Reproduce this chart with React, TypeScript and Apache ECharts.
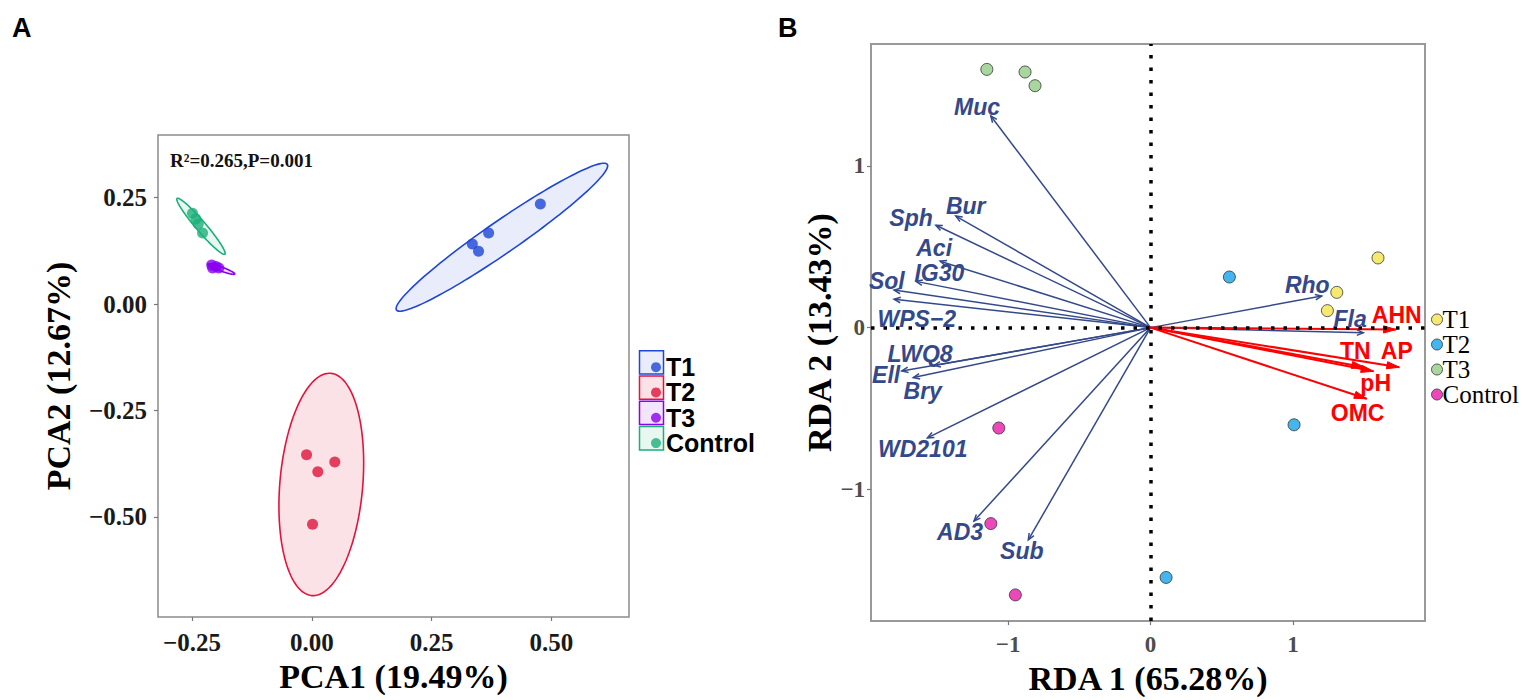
import React, { useEffect, useRef } from "react";
import * as echarts from "echarts";

// ---------- Panel A (PCA) data ----------
const pcaGroups = ["T1", "T2", "T3", "Control"];
const pcaT1X = [0.477, 0.369, 0.335, 0.348];
const pcaT1Y = [0.235, 0.167, 0.141, 0.124];
const pcaT2X = [-0.011, 0.048, 0.0125, 0.0015];
const pcaT2Y = [-0.354, -0.371, -0.394, -0.517];
const pcaT3X = [-0.209, -0.2, -0.194, -0.207];
const pcaT3Y = [0.0915, 0.088, 0.0845, 0.0845];
const pcaCtrlX = [-0.249, -0.242, -0.237, -0.228];
const pcaCtrlY = [0.213, 0.2, 0.188, 0.167];
// ellipse: centre x, centre y, semi-axis a (x,y), semi-axis b (x,y) in data units
const ellT1 = [0.3967, 0.157, 0.22, 0.171, 0.019, -0.031];
const ellT2 = [0.0198, -0.4237, 0.0198, 0.261, 0.0862, -0.0082];
const ellT3 = [-0.189, 0.0822, 0.0282, -0.0117, 0.0015, 0.0044];
const ellCtrl = [-0.2313, 0.1826, 0.0498, -0.0654, 0.0079, 0.0076];
const pcaXTicks = [-0.25, 0, 0.25, 0.5];
const pcaYTicks = [-0.5, -0.25, 0, 0.25];

// ---------- Panel B (RDA) data ----------
const rdaT1X = [1.596, 1.307, 1.241];
const rdaT1Y = [0.431, 0.218, 0.105];
const rdaT2X = [0.553, 1.007, 0.109];
const rdaT2Y = [0.313, -0.601, -1.545];
const rdaT3X = [-1.149, -0.881, -0.811];
const rdaT3Y = [1.597, 1.581, 1.496];
const rdaCtrlX = [-1.065, -1.121, -0.949];
const rdaCtrlY = [-0.621, -1.212, -1.653];

const speciesNames = ["Muc", "Bur", "Sph", "Aci", "IG30", "Sol", "WPS\u22122", "LWQ8", "Ell", "Bry", "WD2101", "AD3", "Sub", "Rho", "Fla"];
const speciesX = [-1.121, -1.367, -1.507, -1.477, -1.646, -1.8, -1.8, -1.519, -1.746, -1.665, -1.566, -1.239, -0.858, 1.201, 1.493];
const speciesY = [1.309, 0.69, 0.633, 0.411, 0.286, 0.232, 0.175, -0.234, -0.268, -0.309, -0.682, -1.196, -1.313, 0.195, -0.032];
const speciesLabelX = [-1.218, -1.297, -1.681, -1.519, -1.482, -1.851, -1.641, -1.618, -1.856, -1.599, -1.599, -1.337, -0.904, 1.1, 1.4];
const speciesLabelY = [1.367, 0.75, 0.679, 0.49, 0.338, 0.29, 0.054, -0.162, -0.29, -0.389, -0.748, -1.266, -1.384, 0.262, 0.054];

const envNames = ["AHN", "TN", "AP", "pH", "OMC"];
const envX = [1.723, 1.565, 1.746, 1.5, 1.517];
const envY = [-0.012, -0.27, -0.245, -0.245, -0.44];
const envLabelX = [1.728, 1.437, 1.728, 1.58, 1.453];
const envLabelY = [0.079, -0.147, -0.147, -0.345, -0.53];

const rdaXTicks = [-1, 0, 1];
const rdaYTicks = [-1, 0, 1];

const zip = (xs: number[], ys: number[]) => xs.map((x, i) => [x, ys[i]]);
const fmtA = (v: number) => (v < 0 ? "\u2212" : "") + Math.abs(v).toFixed(2);
const fmtB = (v: number) => (v < 0 ? "\u2212" : "") + Math.abs(Math.round(v)).toString();

const SERIF = "Liberation Serif";
const SANS = "Liberation Sans";

const colA = { T1: "#1E46D7", T2: "#E0143C", T3: "#8A00F0", Control: "#1BAF7A" };
const fillA = {
  T1: "rgba(30,70,215,0.10)",
  T2: "rgba(224,20,60,0.12)",
  T3: "rgba(138,0,240,0.10)",
  Control: "rgba(27,175,122,0.10)",
};
const colB = { T1: "#F2E34C", T2: "#17A3E8", T3: "#93CC86", Control: "#E81AAA" };
const SPECIES_COL = "#34498A";
const ENV_COL = "#FF0000";

function ellipseRenderer(stroke: string, fill: string) {
  return (_params: any, api: any) => {
    const cx = api.value(0), cy = api.value(1), ax = api.value(2), ay = api.value(3), bx = api.value(4), by = api.value(5);
    const pts: number[][] = [];
    const n = 140;
    for (let i = 0; i <= n; i++) {
      const t = (i / n) * Math.PI * 2;
      pts.push(api.coord([cx + ax * Math.cos(t) + bx * Math.sin(t), cy + ay * Math.cos(t) + by * Math.sin(t)]));
    }
    return { type: "polygon", shape: { points: pts }, style: { fill, stroke, lineWidth: 1.6 } };
  };
}

function arrowRenderer(stroke: string, lineWidth: number, headLen: number, headAng: number, filled: boolean) {
  return (_params: any, api: any) => {
    const p0 = api.coord([0, 0]);
    const p1 = api.coord([api.value(0), api.value(1)]);
    const ang = Math.atan2(p1[1] - p0[1], p1[0] - p0[0]);
    const h1 = [p1[0] - headLen * Math.cos(ang - headAng), p1[1] - headLen * Math.sin(ang - headAng)];
    const h2 = [p1[0] - headLen * Math.cos(ang + headAng), p1[1] - headLen * Math.sin(ang + headAng)];
    return {
      type: "group",
      children: [
        { type: "line", shape: { x1: p0[0], y1: p0[1], x2: p1[0], y2: p1[1] }, style: { stroke, lineWidth } },
        filled
          ? { type: "polygon", shape: { points: [h1, p1, h2] }, style: { fill: stroke, stroke, lineWidth: 1 } }
          : { type: "polyline", shape: { points: [h1, p1, h2] }, style: { stroke, lineWidth, fill: "none" } },
      ],
    };
  };
}

export default function App() {
  const ref = useRef<HTMLDivElement>(null);
  useEffect(() => {
    if (!ref.current) return;
    const chart = echarts.init(ref.current, null, { renderer: "svg" });

    const axisA = (ticks: number[], margin: number) => ({
      type: "value",
      splitLine: { show: false },
      axisLine: { show: false, onZero: false },
      axisTick: { show: true, customValues: ticks, length: 4, lineStyle: { color: "#777", width: 1.2 } },
      axisLabel: {
        customValues: ticks,
        formatter: fmtA,
        fontFamily: SERIF,
        fontWeight: "bold",
        fontSize: 25,
        color: "#1a1a1a",
        margin,
      },
      nameTextStyle: { fontFamily: SERIF, fontWeight: "bold", fontSize: 34, color: "#000" },
    });
    const axisB = (ticks: number[], margin: number) => ({
      type: "value",
      splitLine: { show: false },
      axisLine: { show: false, onZero: false },
      axisTick: { show: true, customValues: ticks, length: 4, lineStyle: { color: "#777", width: 1.2 } },
      axisLabel: {
        customValues: ticks,
        formatter: fmtB,
        fontFamily: SERIF,
        fontWeight: "bold",
        fontSize: 23,
        color: "#4d4d4d",
        margin,
      },
      nameTextStyle: { fontFamily: SERIF, fontWeight: "bold", fontSize: 34, color: "#000" },
    });

    const scatterA = (name: string, xs: number[], ys: number[], color: string) => ({
      type: "scatter",
      name,
      xAxisIndex: 0,
      yAxisIndex: 0,
      data: zip(xs, ys),
      symbolSize: 11,
      itemStyle: { color },
      z: 3,
    });
    const ellA = (name: string, e: number[], stroke: string, fill: string) => ({
      type: "custom",
      name: name + " ellipse",
      xAxisIndex: 0,
      yAxisIndex: 0,
      data: [e],
      renderItem: ellipseRenderer(stroke, fill),
      z: 1,
    });
    const scatterB = (name: string, xs: number[], ys: number[], color: string) => ({
      type: "scatter",
      name,
      xAxisIndex: 1,
      yAxisIndex: 1,
      data: zip(xs, ys),
      symbolSize: 12,
      itemStyle: { color, borderColor: "#333", borderWidth: 1 },
      z: 6,
    });
    const labelSeries = (name: string, names: string[], xs: number[], ys: number[], color: string, italic: boolean) => ({
      type: "scatter",
      name,
      xAxisIndex: 1,
      yAxisIndex: 1,
      data: names.map((n, i) => [xs[i], ys[i], n]),
      symbolSize: 1,
      itemStyle: { color: "transparent" },
      label: {
        show: true,
        position: "inside",
        formatter: (p: any) => p.data[2],
        fontFamily: SANS,
        fontWeight: "bold",
        fontStyle: italic ? "italic" : "normal",
        fontSize: 23,
        color,
        opacity: 1,
        textBorderWidth: 0,
      },
      z: 5,
    });

    const option: any = {
      animation: false,
      backgroundColor: "#fff",
      grid: [
        { left: 158, top: 135, width: 471, height: 482, show: true, borderColor: "#8c8c8c", borderWidth: 1.5, backgroundColor: "transparent" },
        { left: 871, top: 44, width: 554, height: 590, show: true, borderColor: "#999", borderWidth: 2, backgroundColor: "transparent" },
      ],
      xAxis: [
        { ...axisA(pcaXTicks, 13), gridIndex: 0, min: -0.321, max: 0.662, name: "PCA1 (19.49%)", nameLocation: "middle", nameGap: 37 },
        { ...axisB(rdaXTicks, 12), gridIndex: 1, min: -1.962, max: 1.926, name: "RDA 1 (65.28%)", nameLocation: "middle", nameGap: 14 },
      ],
      yAxis: [
        { ...axisA(pcaYTicks, 11), gridIndex: 0, min: -0.735, max: 0.397, name: "PCA2 (12.67%)", nameLocation: "middle", nameGap: 83 },
        { ...axisB(rdaYTicks, 6), gridIndex: 1, min: -1.815, max: 1.754, name: "RDA 2 (13.43%)", nameLocation: "middle", nameGap: 26 },
      ],
      legend: [
        {
          orient: "vertical",
          left: 646,
          top: 349.5,
          itemWidth: 10,
          itemHeight: 10,
          itemGap: 0,
          selectedMode: false,
          icon: "circle",
          textStyle: { fontFamily: SANS, fontWeight: "bold", fontSize: 25, color: "#000", lineHeight: 25.3, padding: [0, 0, 0, 0] },
          data: pcaGroups.map((g) => ({ name: g, itemStyle: { color: (colA as any)[g] } })),
        },
        {
          orient: "vertical",
          left: 1426,
          top: 302,
          itemWidth: 11,
          itemHeight: 11,
          itemGap: 0,
          selectedMode: false,
          icon: "circle",
          textStyle: { fontFamily: SERIF, fontSize: 25, color: "#000", lineHeight: 19.1, padding: [0, 0, 0, -5] },
          data: pcaGroups.map((g) => ({ name: g, itemStyle: { color: (colB as any)[g], borderColor: "#333", borderWidth: 1 } })),
        },
      ],
      graphic: [
        { type: "text", left: 12, top: 14, style: { text: "A", fontFamily: SANS, fontWeight: "bold", fontSize: 27, fill: "#000" } },
        { type: "text", left: 778, top: 14, style: { text: "B", fontFamily: SANS, fontWeight: "bold", fontSize: 27, fill: "#000" } },
        { type: "text", left: 170, top: 151, style: { text: "R\u00b2=0.265,P=0.001", fontFamily: SERIF, fontWeight: "bold", fontSize: 19, fill: "#111" } },
        ...pcaGroups.map((g, i) => ({
          type: "rect",
          shape: { x: 639.5, y: 350.7 + i * 25.3, width: 24, height: 23.3 },
          style: { fill: (fillA as any)[g], stroke: (colA as any)[g], lineWidth: 1.5 },
          z: 1,
        })),
      ],
      series: [
        ellA("T1", ellT1, colA.T1, fillA.T1),
        ellA("T2", ellT2, colA.T2, fillA.T2),
        ellA("T3", ellT3, colA.T3, fillA.T3),
        ellA("Control", ellCtrl, colA.Control, fillA.Control),
        scatterA("T1", pcaT1X, pcaT1Y, colA.T1),
        scatterA("T2", pcaT2X, pcaT2Y, colA.T2),
        scatterA("T3", pcaT3X, pcaT3Y, colA.T3),
        scatterA("Control", pcaCtrlX, pcaCtrlY, colA.Control),
        // Panel B
        {
          type: "custom",
          name: "species",
          xAxisIndex: 1,
          yAxisIndex: 1,
          data: zip(speciesX, speciesY),
          renderItem: arrowRenderer(SPECIES_COL, 1.5, 7, 0.4, false),
          z: 2,
        },
        {
          type: "custom",
          name: "env",
          xAxisIndex: 1,
          yAxisIndex: 1,
          data: zip(envX, envY),
          renderItem: arrowRenderer(ENV_COL, 2, 13, 0.28, true),
          z: 3,
        },
        {
          type: "scatter",
          name: "axes0",
          xAxisIndex: 1,
          yAxisIndex: 1,
          data: [[0, 0]],
          symbolSize: 1,
          itemStyle: { color: "transparent" },
          z: 4,
          markLine: {
            silent: true,
            symbol: "none",
            label: { show: false },
            lineStyle: { color: "#000", type: [3.5, 9], width: 3.5, cap: "butt" },
            data: [{ xAxis: 0 }, { yAxis: 0 }],
          },
        },
        labelSeries("speciesLabels", speciesNames, speciesLabelX, speciesLabelY, SPECIES_COL, true),
        labelSeries("envLabels", envNames, envLabelX, envLabelY, ENV_COL, false),
        scatterB("T1", rdaT1X, rdaT1Y, colB.T1),
        scatterB("T2", rdaT2X, rdaT2Y, colB.T2),
        scatterB("T3", rdaT3X, rdaT3Y, colB.T3),
        scatterB("Control", rdaCtrlX, rdaCtrlY, colB.Control),
      ],
    };
    chart.setOption(option);
    return () => chart.dispose();
  }, []);
  return <div ref={ref} style={{ position: "absolute", left: 0, top: 0, width: 1537, height: 700 }} />;
}
